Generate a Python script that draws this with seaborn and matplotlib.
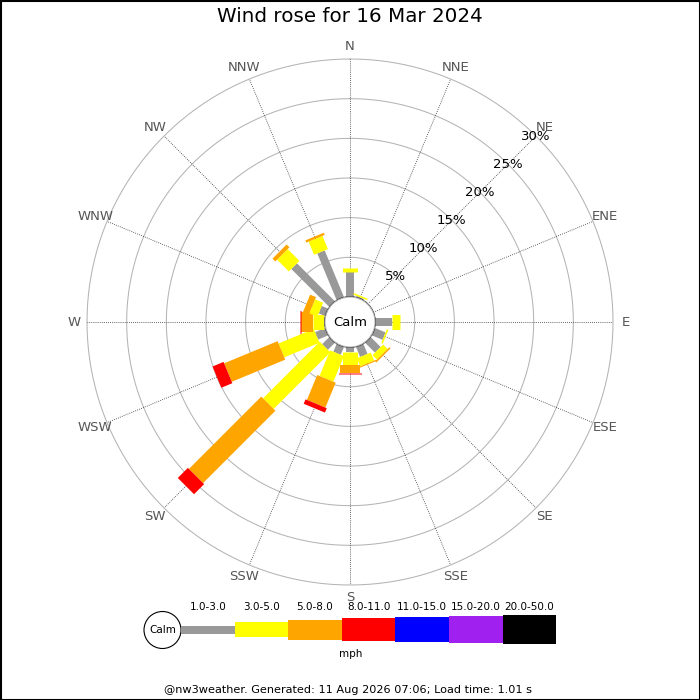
import numpy as np
import matplotlib
matplotlib.use("Agg")
import matplotlib.pyplot as plt
from matplotlib.patches import Circle, Rectangle
import seaborn as sns

# Wind rose for 16 Mar 2024 (percent of observations per direction / speed band)
directions = ["N", "NNE", "NE", "ENE", "E", "ESE", "SE", "SSE",
              "S", "SSW", "SW", "WSW", "W", "WNW", "NW", "NNW"]
band_1_3 = [3.2, 0.2, 0, 0, 2.1, 1.5, 1.8, 1.4, 0.6, 1.1, 1.3, 1.4, 0.1, 0.9, 6.8, 6.4]
band_3_5 = [0.5, 0.2, 0, 0, 1.0, 0.2, 0.8, 1.1, 1.7, 3.5, 10.1, 4.8, 1.4, 1.1, 2.1, 1.8]
band_5_8 = [0, 0, 0, 0, 0, 0, 0.2, 0.15, 1.0, 3.4, 12.9, 7.3, 1.5, 0.8, 0.5, 0.3]
band_8_11 = [0, 0, 0, 0, 0, 0, 0, 0, 0.15, 0.6, 1.8, 1.5, 0.2, 0, 0, 0]

speed_bins = ["1.0-3.0", "3.0-5.0", "5.0-8.0", "8.0-11.0",
              "11.0-15.0", "15.0-20.0", "20.0-50.0"]
bin_colors = ["#999999", "#ffff00", "#ffa500", "#ff0000",
              "#0000ff", "#a020f0", "#000000"]
bin_px = [8, 15, 20, 23, 25, 27, 29]   # bar thickness in pixels
ring_pct = [5, 10, 15, 20, 25, 30]

sns.set_theme(style="white")
plt.rcParams["font.family"] = ["DejaVu Sans"]
plt.rcParams["text.color"] = "black"

fig = plt.figure(figsize=(7, 7), dpi=100)
px = 72 / fig.dpi  # points per pixel

ax = fig.add_axes([0.1243, 0.1643, 0.7514, 0.7514], projection="polar")
ax.set_theta_zero_location("N")
ax.set_theta_direction(-1)
ax.set_rorigin(-3.16)
ax.set_ylim(0, 30)
ax.grid(False)
ax.set_xticks([])
ax.set_yticks([])
for sp in ax.spines.values():
    sp.set_visible(False)
ax.set_facecolor("none")

full = np.linspace(0, 2 * np.pi, 361)
for r in ring_pct:
    ax.plot(full, np.full_like(full, r), color="#b4b4b4", lw=0.75, clip_on=False)

angles = np.deg2rad(np.arange(16) * 22.5)
for th, name in zip(angles, directions):
    ax.plot([th, th], [0.3, 30], color="#333333", lw=0.6, ls=(0, (1, 1.5)))
    ax.text(th, 31.6, name, color="#555555", fontsize=9.5,
            ha="center", va="center", clip_on=False)

for r in ring_pct:
    ax.text(np.deg2rad(45), r, f"{r}%", fontsize=9.5, color="black",
            ha="center", va="center")

bands = [band_1_3, band_3_5, band_5_8, band_8_11]
for i, th in enumerate(angles):
    base = 0.0
    for k, band in enumerate(bands):
        v = band[i]
        if v <= 0:
            continue
        ax.plot([th, th], [base, base + v], color=bin_colors[k],
                lw=bin_px[k] * px, solid_capstyle="butt")
        base += v

# overlay axes in pixel units for title, calm disc, legend and footer
ov = fig.add_axes([0, 0, 1, 1])
ov.set_xlim(0, 700)
ov.set_ylim(700, 0)
ov.axis("off")
ov.set_facecolor("none")

ov.add_patch(Circle((350, 322), 25, facecolor="white",
                    edgecolor="#b4b4b4", lw=0.75))
ov.text(350, 322, "Calm", fontsize=9.5, ha="center", va="center")

ov.text(350, 17, "Wind rose for 16 Mar 2024", fontsize=14.3,
        ha="center", va="center")

ov.add_patch(Circle((162.5, 630), 18.5, facecolor="white",
                    edgecolor="black", lw=0.8))
ov.text(162.5, 630, "Calm", fontsize=7.5, ha="center", va="center")
seg_w = 53.6
x0 = 181
for k, (lab, col, h) in enumerate(zip(speed_bins, bin_colors, bin_px)):
    left = x0 + k * seg_w
    ov.add_patch(Rectangle((left, 629.5 - h / 2), seg_w, h,
                           facecolor=col, edgecolor="none"))
    ov.text(left + seg_w / 2, 607, lab, fontsize=7.5,
            ha="center", va="center")
ov.text(351, 654, "mph", fontsize=7.5, ha="center", va="center")

ov.text(348, 690, "@nw3weather. Generated: 11 Aug 2026 07:06; Load time: 1.01 s",
        fontsize=8.1, ha="center", va="center")

ov.add_patch(Rectangle((0.5, 0.5), 699, 699, facecolor="none",
                       edgecolor="black", lw=1.5))

fig.savefig("out.png", dpi=100)
